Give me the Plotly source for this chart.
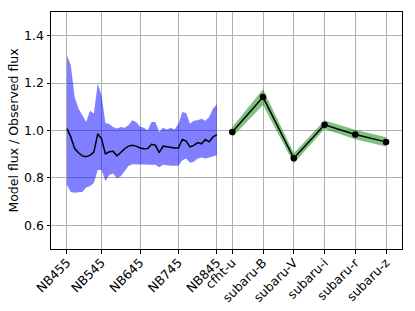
import numpy as np
import plotly.graph_objects as go

# Narrow-band filters NB455 ... NB845 (10 nm steps)
nb_names = ["NB%d" % w for w in range(455, 846, 10)]
nb_ratio = [1.008, 0.973, 0.924, 0.906, 0.893, 0.889, 0.895, 0.909, 0.986, 0.965,
            0.901, 0.910, 0.912, 0.893, 0.907, 0.923, 0.934, 0.938, 0.934, 0.926,
            0.923, 0.924, 0.942, 0.938, 0.907, 0.934, 0.931, 0.928, 0.926, 0.926,
            0.962, 0.955, 0.931, 0.937, 0.949, 0.944, 0.962, 0.952, 0.973, 0.983]
nb_upper = [1.317, 1.275, 1.141, 1.093, 1.064, 1.036, 1.083, 1.072, 1.198, 1.149,
            1.032, 1.027, 1.015, 1.008, 1.015, 1.012, 1.022, 1.043, 1.036, 1.017,
            1.012, 1.001, 1.036, 1.036, 0.994, 1.012, 1.004, 1.012, 1.004, 1.029,
            1.078, 1.074, 1.029, 1.041, 1.043, 1.050, 1.041, 1.057, 1.093, 1.111]
nb_lower = [0.770, 0.741, 0.737, 0.739, 0.741, 0.760, 0.766, 0.779, 0.833, 0.833,
            0.787, 0.812, 0.819, 0.798, 0.807, 0.829, 0.850, 0.858, 0.855, 0.855,
            0.855, 0.855, 0.855, 0.855, 0.845, 0.855, 0.853, 0.851, 0.850, 0.851,
            0.875, 0.882, 0.864, 0.868, 0.882, 0.886, 0.882, 0.886, 0.892, 0.896]

# Broad-band filters
bb_names = ["cfht-u", "subaru-B", "subaru-V", "subaru-i", "subaru-r", "subaru-z"]
bb_ratio = [0.994, 1.141, 0.883, 1.024, 0.983, 0.952]
bb_err = [0.021, 0.033, 0.021, 0.018, 0.020, 0.020]

nb_tick_names = ["NB455", "NB545", "NB645", "NB745", "NB845"]

nb_x = np.arange(len(nb_ratio))
bb_x = len(nb_ratio) + 3 + 8 * np.arange(len(bb_ratio))
bb_up = np.array(bb_ratio) + np.array(bb_err)
bb_lo = np.array(bb_ratio) - np.array(bb_err)

tickvals = [int(nb_names.index(n)) for n in nb_tick_names] + list(bb_x)
ticktext = nb_tick_names + bb_names

fig = go.Figure()
fig.add_trace(go.Scatter(
    x=np.concatenate([nb_x, nb_x[::-1]]),
    y=np.concatenate([nb_upper, nb_lower[::-1]]),
    fill="toself", fillcolor="rgba(0,0,255,0.5)", line=dict(width=0),
    mode="lines", hoverinfo="skip", showlegend=False))
fig.add_trace(go.Scatter(
    x=nb_x, y=nb_ratio, mode="lines",
    line=dict(color="black", width=1.5), showlegend=False))
fig.add_trace(go.Scatter(
    x=np.concatenate([bb_x, bb_x[::-1]]),
    y=np.concatenate([bb_up, bb_lo[::-1]]),
    fill="toself", fillcolor="rgba(0,128,0,0.5)", line=dict(width=0),
    mode="lines", hoverinfo="skip", showlegend=False))
fig.add_trace(go.Scatter(
    x=bb_x, y=bb_ratio, mode="lines+markers",
    line=dict(color="black", width=1.5),
    marker=dict(color="black", size=6.5), showlegend=False))

span = bb_x[-1] - nb_x[0]
fig.update_layout(
    width=415, height=311,
    margin=dict(l=51, r=13, t=12, b=62),
    paper_bgcolor="white", plot_bgcolor="white",
    font=dict(family="DejaVu Sans", size=12.5, color="black"),
    showlegend=False,
)
fig.update_xaxes(
    range=[nb_x[0] - 0.05 * span, bb_x[-1] + 0.05 * span],
    tickmode="array", tickvals=tickvals, ticktext=ticktext, tickangle=-45,
    showgrid=True, gridcolor="#b0b0b0", gridwidth=0.8,
    showline=True, linecolor="black", linewidth=1, mirror=True,
    ticks="outside", ticklen=3.5, tickcolor="black", zeroline=False,
    tickfont=dict(size=12.5), automargin=False, ticklabelstandoff=-3,
)
fig.update_yaxes(
    range=[0.5, 1.5], tickmode="linear", tick0=0.6, dtick=0.2, tickformat=".1f",
    showgrid=True, gridcolor="#b0b0b0", gridwidth=0.8,
    showline=True, linecolor="black", linewidth=1, mirror=True,
    ticks="outside", ticklen=3.5, tickcolor="black", zeroline=False,
    title=dict(text="Model flux / Observed flux", font=dict(size=12.5), standoff=2),
    tickfont=dict(size=12.5), automargin=False,
)
fig.write_html("out.html", config={"displayModeBar": False},
               post_script="document.body.style.margin='0px';document.body.style.padding='0px';")
